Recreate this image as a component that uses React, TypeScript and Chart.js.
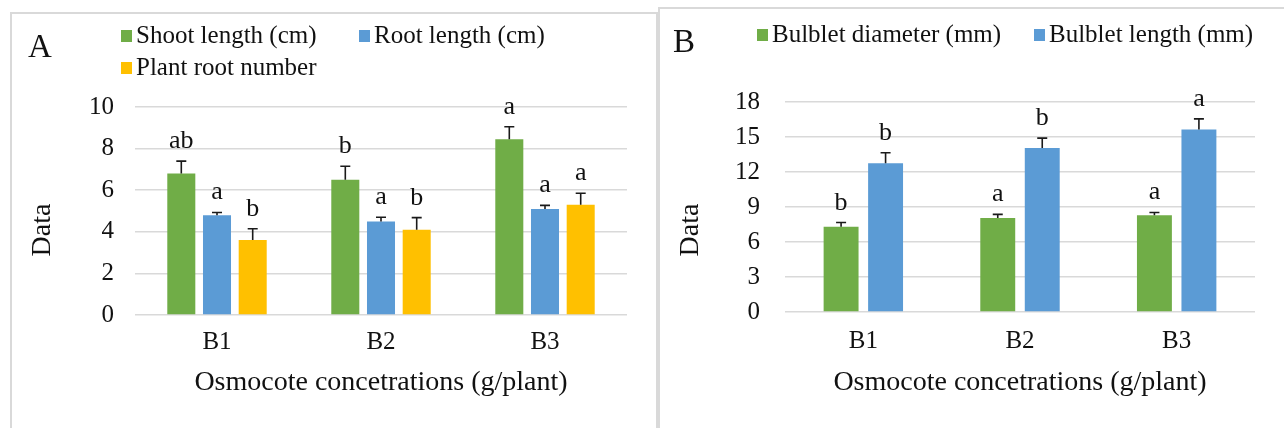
import React, { useEffect, useRef } from "react";
import { Chart, registerables } from "chart.js";

Chart.register(...registerables);

// ---------- Data ----------
const categories = ["B1", "B2", "B3"];

// Panel A
const shootLength = [6.8, 6.5, 8.45];
const shootLengthErr = [0.6, 0.65, 0.6];
const shootLetters = ["ab", "b", "a"];
const rootLength = [4.8, 4.5, 5.1];
const rootLengthErr = [0.13, 0.2, 0.17];
const rootLengthLetters = ["a", "a", "a"];
const rootNumber = [3.6, 4.1, 5.3];
const rootNumberErr = [0.55, 0.58, 0.55];
const rootNumberLetters = ["b", "b", "a"];

// Panel B
const bulbletDiameter = [7.3, 8.05, 8.3];
const bulbletDiameterErr = [0.37, 0.32, 0.23];
const diameterLetters = ["b", "a", "a"];
const bulbletLength = [12.75, 14.05, 15.65];
const bulbletLengthErr = [0.9, 0.85, 0.9];
const lengthLetters = ["b", "b", "a"];

const xTitle = "Osmocote concetrations (g/plant)";
const yTitle = "Data";

const GREEN = "#70AD47";
const BLUE = "#5B9BD5";
const YELLOW = "#FFC000";
const GRID = "#D9D9D9";
const FONT = "'Liberation Serif', 'Times New Roman', serif";

// ---------- Plugins ----------
const errorBarPlugin = {
  id: "errorBars",
  afterDatasetsDraw(chart: any) {
    const ctx = chart.ctx;
    const yScale = chart.scales.y;
    ctx.save();
    chart.data.datasets.forEach((ds: any, i: number) => {
      const meta = chart.getDatasetMeta(i);
      meta.data.forEach((bar: any, j: number) => {
        const v = ds.data[j];
        const e = ds.errors[j];
        const yTop = yScale.getPixelForValue(v);
        const yErr = yScale.getPixelForValue(v + e);
        ctx.strokeStyle = "#1a1a1a";
        ctx.lineWidth = 1.6;
        ctx.beginPath();
        ctx.moveTo(bar.x, yTop);
        ctx.lineTo(bar.x, yErr);
        ctx.moveTo(bar.x - 5, yErr);
        ctx.lineTo(bar.x + 5, yErr);
        ctx.stroke();
        ctx.fillStyle = "#111";
        ctx.font = `26px ${FONT}`;
        ctx.textAlign = "center";
        ctx.textBaseline = "alphabetic";
        ctx.fillText(ds.letters[j], bar.x, yErr - 13);
      });
    });
    ctx.restore();
  },
};

const decorPlugin = {
  id: "decor",
  afterDraw(chart: any) {
    const opts = chart.options.plugins.decor;
    if (!opts) return;
    const ctx = chart.ctx;
    ctx.save();
    // panel letter
    ctx.fillStyle = "#111";
    ctx.font = `33px ${FONT}`;
    ctx.textAlign = "left";
    ctx.textBaseline = "alphabetic";
    ctx.fillText(opts.panel.text, opts.panel.x, opts.panel.y);
    // legend
    ctx.font = `25px ${FONT}`;
    ctx.textBaseline = "middle";
    opts.legend.forEach((it: any) => {
      const ds = chart.data.datasets[it.index];
      ctx.fillStyle = ds.backgroundColor;
      ctx.fillRect(it.x, it.y - 6, 11, 12);
      ctx.fillStyle = "#111";
      ctx.fillText(ds.label, it.x + 15, it.y);
    });
    // y title
    ctx.font = `28px ${FONT}`;
    ctx.translate(opts.yTitle.x, opts.yTitle.y);
    ctx.rotate(-Math.PI / 2);
    ctx.textAlign = "center";
    ctx.textBaseline = "middle";
    ctx.fillText(yTitle, 0, 0);
    ctx.restore();
  },
};

function makeConfig(
  datasets: any[],
  yMax: number,
  step: number,
  layout: { left: number; right: number; top: number; bottom: number; yWidth: number; xHeight: number; yPad: number; xPad: number; titlePad: number },
  cp: number,
  decor: any
) {
  return {
    type: "bar",
    data: { labels: categories, datasets },
    plugins: [errorBarPlugin, decorPlugin],
    options: {
      responsive: false,
      animation: false,
      devicePixelRatio: 1,
      layout: { padding: { left: layout.left, right: layout.right, top: layout.top, bottom: layout.bottom } },
      datasets: { bar: { categoryPercentage: cp, barPercentage: 0.785 } },
      plugins: {
        legend: { display: false },
        tooltip: { enabled: false },
        decor,
      },
      scales: {
        x: {
          grid: { display: false, drawTicks: false },
          border: { display: false },
          ticks: { color: "#111", font: { family: FONT, size: 25 }, padding: layout.xPad },
          title: {
            display: true,
            text: xTitle,
            color: "#111",
            font: { family: FONT, size: 28 },
            padding: { top: 0, bottom: layout.titlePad },
          },
          afterFit(scale: any) {
            scale.height = layout.xHeight;
          },
        },
        y: {
          min: 0,
          max: yMax,
          grid: { color: GRID, lineWidth: 1.6, drawTicks: false },
          border: { display: false },
          ticks: { stepSize: step, color: "#111", font: { family: FONT, size: 25 }, padding: layout.yPad },
          afterFit(scale: any) {
            scale.width = layout.yWidth;
          },
        },
      },
    },
  };
}

function ChartCanvas({ config, width, height, left }: any) {
  const ref = useRef<HTMLCanvasElement>(null);
  useEffect(() => {
    if (!ref.current) return;
    const chart = new Chart(ref.current, config);
    return () => chart.destroy();
  }, []);
  return (
    <canvas
      ref={ref}
      width={width}
      height={height}
      style={{ position: "absolute", left, top: 0, width, height }}
    />
  );
}

export default function App() {
  const datasetsA = [
    { label: "Shoot length (cm)", data: shootLength, errors: shootLengthErr, letters: shootLetters, backgroundColor: GREEN },
    { label: "Root length (cm)", data: rootLength, errors: rootLengthErr, letters: rootLengthLetters, backgroundColor: BLUE },
    { label: "Plant root number", data: rootNumber, errors: rootNumberErr, letters: rootNumberLetters, backgroundColor: YELLOW },
  ];
  const datasetsB = [
    { label: "Bulblet diameter (mm)", data: bulbletDiameter, errors: bulbletDiameterErr, letters: diameterLetters, backgroundColor: GREEN },
    { label: "Bulblet length (mm)", data: bulbletLength, errors: bulbletLengthErr, letters: lengthLetters, backgroundColor: BLUE },
  ];

  const configA = makeConfig(
    datasetsA,
    10,
    2,
    { left: 0, right: 31, top: 107, bottom: 20, yWidth: 135, xHeight: 428 - 20 - 315, yPad: 21, xPad: 12, titlePad: 9 },
    0.653,
    {
      panel: { text: "A", x: 28, y: 57 },
      legend: [
        { index: 0, x: 121, y: 36 },
        { index: 1, x: 359, y: 36 },
        { index: 2, x: 121, y: 68 },
      ],
      yTitle: { x: 43, y: 230 },
    }
  );

  const configB = makeConfig(
    datasetsB,
    18,
    3,
    { left: 0, right: 29, top: 102, bottom: 20, yWidth: 127, xHeight: 428 - 20 - 312, yPad: 25, xPad: 14, titlePad: 9 },
    0.568,
    {
      panel: { text: "B", x: 15, y: 52 },
      legend: [
        { index: 0, x: 99, y: 35 },
        { index: 1, x: 376, y: 35 },
      ],
      yTitle: { x: 33, y: 230 },
    }
  );

  return (
    <div style={{ position: "fixed", left: 0, top: 0, width: 1284, height: 428, overflow: "hidden", background: "#fff" }}>
      <div style={{ position: "absolute", left: 10, top: 12, width: 644, height: 460, border: `2px solid ${GRID}` }} />
      <div style={{ position: "absolute", left: 658, top: 7, width: 660, height: 460, border: `2px solid ${GRID}` }} />
      <ChartCanvas config={configA} width={658} height={428} left={0} />
      <ChartCanvas config={configB} width={626} height={428} left={658} />
    </div>
  );
}
